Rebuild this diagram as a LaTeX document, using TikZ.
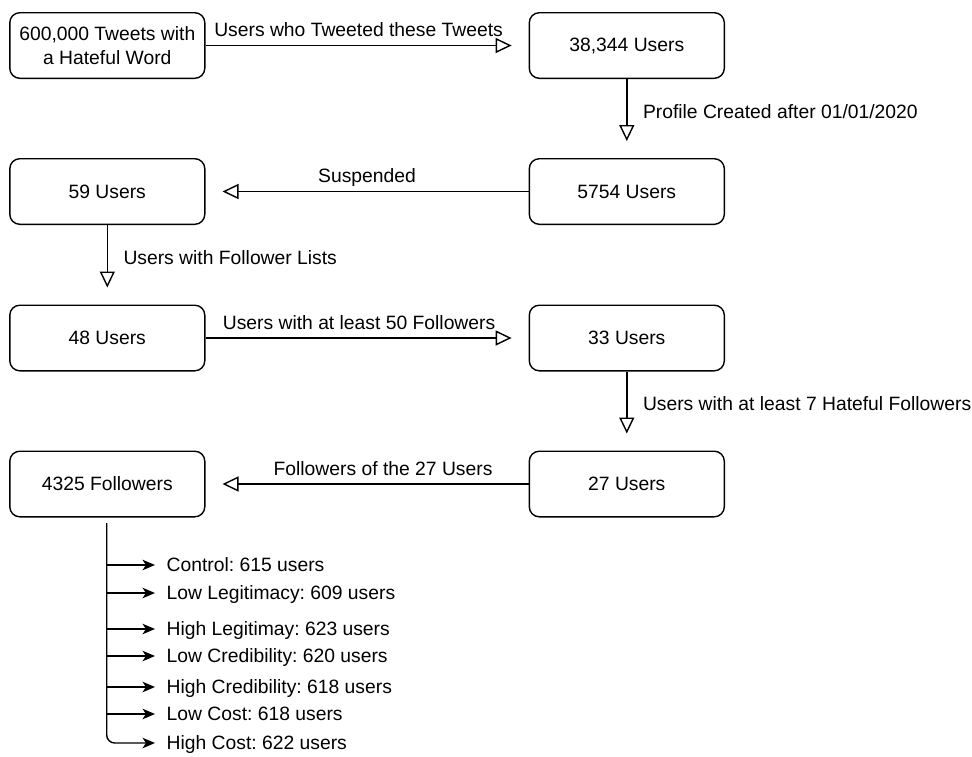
\documentclass[tikz,border=0pt]{standalone}
\usepackage{fontspec}
\setmainfont{Liberation Sans}
\usetikzlibrary{arrows.meta}
\begin{document}
\frenchspacing
\begin{tikzpicture}[x=1pt,y=-1pt, line width=1.4pt,
  font=\fontsize{19.3}{23.3}\selectfont,
  box/.style={draw, rounded corners=10pt, minimum width=195pt, minimum height=65.6pt, align=center, inner sep=0pt},
  flow/.style={-{Triangle[open, length=16pt, width=15pt]}, shorten >=17pt},
  hlbl/.style={anchor=base, yshift=8.7pt, inner sep=0pt},
  vlbl/.style={anchor=west, text height=13.8pt, text depth=0pt, inner sep=0pt, xshift=15.5pt, yshift=7pt},
  item/.style={anchor=west, text height=13.8pt, text depth=0pt, inner sep=0pt},
  itemarr/.style={-{Stealth[length=12.5pt, width=10.5pt, inset=3.5pt]}}]
\useasboundingbox (0,0) rectangle (972,756);

\node[box] (b1) at (107.3,45.5) {600,000 Tweets with\\a Hateful Word};
\node[box] (b2) at (626.8,45.5) {38,344 Users};
\node[box] (b3) at (626.8,191.5) {5754 Users};
\node[box] (b4) at (107.3,191.5) {59 Users};
\node[box] (b5) at (107.3,338) {48 Users};
\node[box] (b6) at (626.8,338) {33 Users};
\node[box] (b7) at (626.8,484) {27 Users};
\node[box] (b8) at (107.3,484) {4325 Followers};

\draw[flow] (b1) -- node[hlbl, xshift=-8.5pt] {Users who Tweeted these Tweets} (b2);
\draw[flow] (b2) -- node[vlbl] {Profile Created after 01/01/2020} (b3);
\draw[flow] (b3) -- node[hlbl] {Suspended} (b4);
\draw[flow] (b4) -- node[vlbl] {Users with Follower Lists} (b5);
\draw[flow] (b5) -- node[hlbl, xshift=-8pt] {Users with at least 50 Followers} (b6);
\draw[flow] (b6) -- node[vlbl] {Users with at least 7 Hateful Followers} (b7);
\draw[flow] (b7) -- node[hlbl, xshift=16pt] {Followers of the 27 Users} (b8);

\coordinate (tt) at (106.7,523);
\node[item] (l1) at (166,565) {Control: 615 users};
\node[item] (l2) at (166,593) {Low Legitimacy: 609 users};
\node[item] (l3) at (166,629) {High Legitimay: 623 users};
\node[item] (l4) at (166,656) {Low Credibility: 620 users};
\node[item] (l5) at (166,687) {High Credibility: 618 users};
\node[item] (l6) at (166,714) {Low Cost: 618 users};
\node[item] (l7) at (166,743) {High Cost: 622 users};

\draw[itemarr, rounded corners=8pt] (tt) |- ([xshift=-11pt]l7.west);
\foreach \i in {1,...,6}{
  \draw[itemarr] (tt |- l\i.west) -- ([xshift=-11pt]l\i.west);
}
\end{tikzpicture}
\end{document}
